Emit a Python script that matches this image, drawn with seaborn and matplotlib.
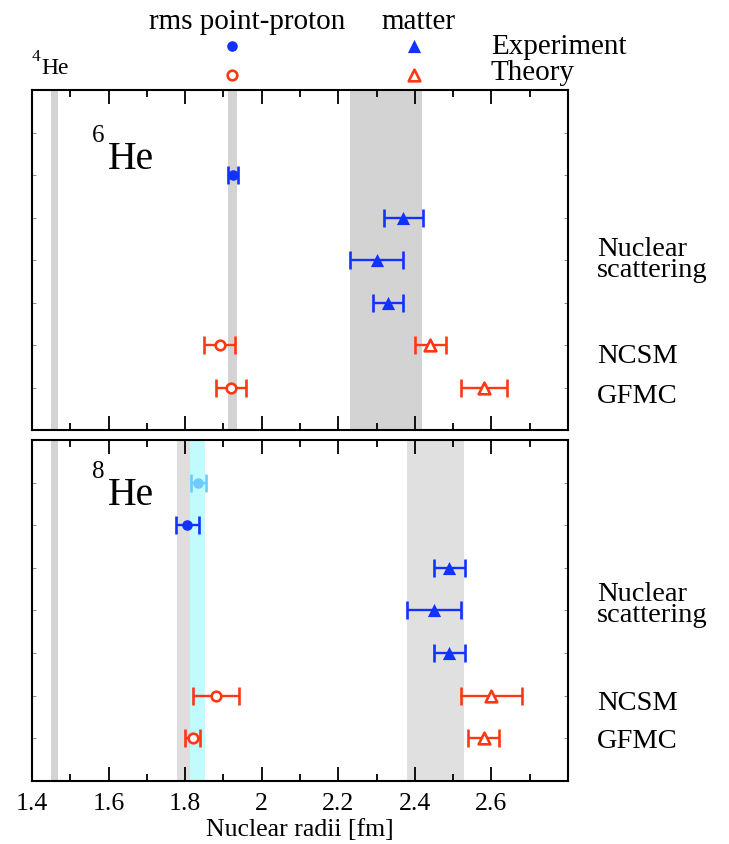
import matplotlib
matplotlib.use("Agg")
import matplotlib.pyplot as plt
from matplotlib.ticker import MultipleLocator
import pandas as pd
import seaborn as sns

# ── Data (radii in fm) ────────────────────────────────────────────────────────
x_ticks       = [1.4, 1.6, 1.8, 2.0, 2.2, 2.4, 2.6]
x_tick_labels = ["1.4", "1.6", "1.8", "2", "2.2", "2.4", "2.6"]

he4_band = (1.449, 1.469)

# 6He: rows counted from the top of the panel
he6_row    = [2, 3, 4, 5, 6, 6, 7, 7]
he6_radius = [1.925, 2.37, 2.30, 2.33, 1.89, 2.44, 1.92, 2.58]
he6_err    = [0.013, 0.05, 0.07, 0.04, 0.04, 0.04, 0.04, 0.06]
he6_kind   = ["proton", "matter", "matter", "matter", "proton", "matter", "proton", "matter"]
he6_source = ["exp", "exp", "exp", "exp", "theory", "theory", "theory", "theory"]
he6_bands  = [(1.911, 1.936, "#d3d3d3"), (2.231, 2.419, "#d3d3d3")]

# 8He
he8_row    = [1, 2, 3, 4, 5, 6, 6, 7, 7]
he8_radius = [1.834, 1.806, 2.49, 2.45, 2.49, 1.88, 2.60, 1.82, 2.58]
he8_err    = [0.020, 0.030, 0.04, 0.07, 0.04, 0.06, 0.08, 0.02, 0.04]
he8_kind   = ["proton", "proton", "matter", "matter", "matter", "proton", "matter", "proton", "matter"]
he8_source = ["exp_alt", "exp", "exp", "exp", "exp", "theory", "theory", "theory", "theory"]
he8_bands  = [(1.778, 1.815, "#dedede"), (1.813, 1.853, "#c2fbfd"), (2.380, 2.529, "#e0e0e0")]

side_labels = ["Nuclear\nscattering", "NCSM", "GFMC"]
he6_side_y  = [4.37, 6.41, 7.34]
he8_side_y  = [4.24, 6.31, 7.21]

colours = {"exp": "#1232ff", "exp_alt": "#6cccff", "theory": "#ff3814"}
markers = {"proton": "o", "matter": "^"}

# ── Style ─────────────────────────────────────────────────────────────────────
sns.set_theme(style="ticks")
plt.rcParams["font.family"] = ["Liberation Serif", "DejaVu Serif"]
plt.rcParams["axes.linewidth"] = 1.5
plt.rcParams["text.color"] = "black"
plt.rcParams["axes.labelcolor"] = "black"
plt.rcParams["xtick.color"] = "black"

fig = plt.figure(figsize=(7.29, 8.45), dpi=100)
ax_top = fig.add_axes([0.0439, 0.4899, 0.7353, 0.4024])
ax_bot = fig.add_axes([0.0439, 0.0746, 0.7353, 0.4036])


def draw_panel(ax, df, bands, side_y, mass):
    ax.axvspan(*he4_band, color="#d3d3d3", lw=0, zorder=0)
    for lo, hi, col in bands:
        ax.axvspan(lo, hi, color=col, lw=0, zorder=0)

    for (kind, source), g in df.groupby(["kind", "source"]):
        col = colours[source]
        ax.errorbar(g["radius"], g["row"], xerr=g["err"], fmt="none",
                    ecolor=col, elinewidth=1.7, capsize=6.5, capthick=1.9, zorder=3)
        filled = source != "theory"
        size = (58 if kind == "proton" else 90) if filled else (48 if kind == "proton" else 70)
        sns.scatterplot(x=g["radius"], y=g["row"], ax=ax, marker=markers[kind], s=size,
                        color=col if filled else "white", edgecolor=col,
                        linewidth=0 if filled else 1.9, zorder=4, legend=False)

    ax.set_xlim(1.4, 2.8)
    ax.set_ylim(8, 0)
    ax.set_xticks(x_ticks)
    ax.xaxis.set_minor_locator(MultipleLocator(0.1))
    ax.set_yticks(range(1, 8))
    ax.set_yticklabels([])
    ax.tick_params(axis="x", which="major", direction="in", length=10, width=1.3,
                   top=True, bottom=True, labelsize=18.5, pad=8, colors="black")
    ax.tick_params(axis="x", which="minor", direction="in", length=5, width=1.3,
                   top=True, bottom=True)
    ax.tick_params(axis="y", direction="in", length=3, width=0.6, left=True, right=True,
                   color="#777777")
    for s in ax.spines.values():
        s.set_color("black")
    ax.set_xlabel("")
    ax.set_ylabel("")

    # isotope label
    ax.text(1.557, mass[1], mass[0], fontsize=18, va="baseline", ha="left")
    ax.text(1.598, mass[2], "He", fontsize=28.5, va="baseline", ha="left")

    # multi-line labels align on the baseline of their last line
    tr = ax.get_yaxis_transform()
    for lab, y in zip(side_labels, side_y):
        ax.text(1.054, y, lab, transform=tr, fontsize=20.5, va="baseline", ha="left",
                linespacing=0.78, clip_on=False)


he6 = pd.DataFrame({"row": he6_row, "radius": he6_radius, "err": he6_err,
                    "kind": he6_kind, "source": he6_source})
he8 = pd.DataFrame({"row": he8_row, "radius": he8_radius, "err": he8_err,
                    "kind": he8_kind, "source": he8_source})

draw_panel(ax_top, he6, he6_bands, he6_side_y, ("6", 1.19, 1.835))
draw_panel(ax_bot, he8, he8_bands, he8_side_y, ("8", 0.87, 1.50))

ax_top.set_xticklabels([])
ax_bot.set_xticklabels(x_tick_labels)
ax_bot.set_xlabel("Nuclear radii [fm]", fontsize=18.5, labelpad=3)

# ── Header key (pixel coordinates of the figure) ──────────────────────────────
hdr = fig.add_axes([0, 0, 1, 1], zorder=-1)
hdr.set_xlim(0, 729)
hdr.set_ylim(845, 0)
hdr.axis("off")

key_cols   = ["rms point-proton", "matter"]
key_rows   = ["Experiment", "Theory"]
col_x      = [232, 414]
col_text_x = [247, 418]
row_y      = [47, 76]
row_text_y = [54, 80]

for lab, tx in zip(key_cols, col_text_x):
    hdr.text(tx, 29, lab, fontsize=21, ha="center", va="baseline")
for lab, ty in zip(key_rows, row_text_y):
    hdr.text(491, ty, lab, fontsize=21, ha="left", va="baseline")

hdr.scatter([col_x[0]], [row_y[0]], marker="o", s=58, color=colours["exp"], lw=0)
hdr.scatter([col_x[1]], [row_y[0]], marker="^", s=90, color=colours["exp"], lw=0)
hdr.scatter([col_x[0]], [row_y[1]], marker="o", s=48, color="white",
            edgecolor=colours["theory"], lw=1.9)
hdr.scatter([col_x[1]], [row_y[1]], marker="^", s=70, color="white",
            edgecolor=colours["theory"], lw=1.9)

hdr.text(32, 61, "4", fontsize=12.5, ha="left", va="baseline")
hdr.text(41, 74, "He", fontsize=17, ha="left", va="baseline")

fig.savefig("out.png", dpi=100)
